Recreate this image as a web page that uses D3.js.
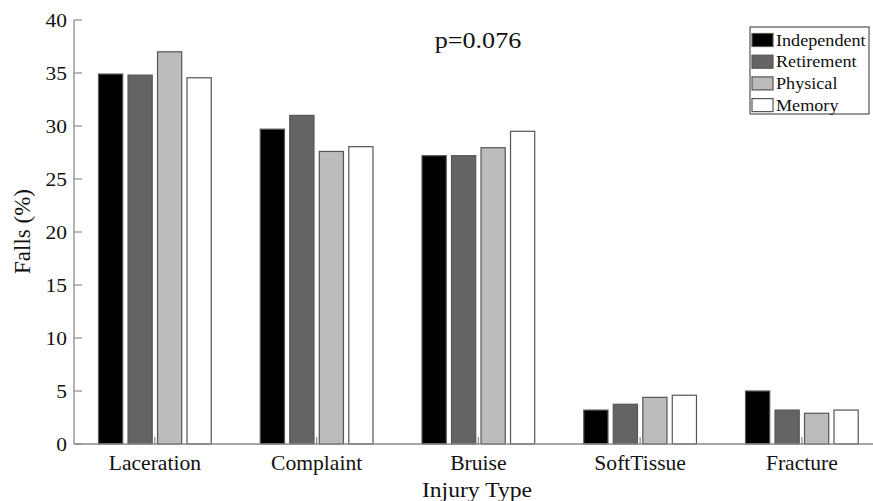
<!DOCTYPE html>
<html>
<head>
<meta charset="utf-8">
<script src="https://cdn.jsdelivr.net/npm/d3@7/dist/d3.min.js"></script>
<style>
  html, body { margin: 0; padding: 0; background: #fff; }
</style>
</head>
<body>
<svg id="chart" width="873" height="501"></svg>
<script>
// ---- data ----
const categories = ["Laceration", "Complaint", "Bruise", "SoftTissue", "Fracture"];
const seriesNames = ["Independent", "Retirement", "Physical", "Memory"];
const independent = [34.9, 29.7, 27.2, 3.2, 5.0];
const retirement  = [34.8, 31.0, 27.2, 3.75, 3.2];
const physical    = [37.0, 27.6, 27.95, 4.4, 2.9];
const memory      = [34.55, 28.05, 29.5, 4.6, 3.2];
const yTicks = [0, 5, 10, 15, 20, 25, 30, 35, 40];
const seriesValues = [independent, retirement, physical, memory];
const colors = ["#000000", "#646464", "#bcbcbc", "#ffffff"];

const FONT = "'Liberation Serif', Tinos, 'Times New Roman', Times, 'DejaVu Serif', serif";

const svg = d3.select("#chart");

const x = d3.scaleBand().domain(categories).range([74, 74 + 5 * 161.75]).paddingInner(0).paddingOuter(0);
const y = d3.scaleLinear().domain([0, 40]).range([444, 20]);
const xs = d3.scaleBand().domain(seriesNames).range([-59, 59]).paddingInner(0.18).paddingOuter(0.09);

function stext(g, str, tx, ty, size, sx, anchor) {
  return g.append("text")
    .attr("transform", `translate(${tx},${ty}) scale(${sx},1)`)
    .attr("text-anchor", anchor || "middle")
    .attr("font-family", FONT)
    .attr("font-size", size)
    .attr("fill", "#111")
    .text(str);
}

// bars
const groups = svg.append("g").selectAll("g").data(categories).join("g")
  .attr("transform", d => `translate(${x(d) + x.bandwidth() / 2},0)`);
groups.selectAll("rect")
  .data((c, ci) => seriesNames.map((s, si) => ({ s, si, v: seriesValues[si][ci] })))
  .join("rect")
  .attr("x", d => xs(d.s))
  .attr("width", xs.bandwidth())
  .attr("y", d => y(d.v))
  .attr("height", d => y(0) - y(d.v))
  .attr("fill", d => colors[d.si])
  .attr("stroke", "#555")
  .attr("stroke-width", 1.2);

// axes
const axisColor = "#8a8a8a";
const ax = svg.append("g");
ax.append("line").attr("x1", 74).attr("x2", 873).attr("y1", y(0)).attr("y2", y(0))
  .attr("stroke", axisColor).attr("stroke-width", 1.3);
ax.append("line").attr("x1", 74).attr("x2", 74).attr("y1", y(0)).attr("y2", y(40))
  .attr("stroke", axisColor).attr("stroke-width", 1.3);

// y ticks (inward)
yTicks.forEach(t => {
  ax.append("line").attr("x1", 74).attr("x2", 82).attr("y1", y(t)).attr("y2", y(t))
    .attr("stroke", axisColor).attr("stroke-width", 1.2);
  stext(ax, String(t), 67, y(t) + 6.5, 19.5, 1.1, "end");
});

// x ticks (inward) + labels
categories.forEach(c => {
  const cx = x(c) + x.bandwidth() / 2;
  ax.append("line").attr("x1", cx).attr("x2", cx).attr("y1", y(0)).attr("y2", y(0) - 7)
    .attr("stroke", axisColor).attr("stroke-width", 1.2);
  stext(ax, c, cx, 470, 20, 1.08, "middle");
});

// axis titles
stext(svg, "Injury Type", 477, 497, 21.5, 1.1, "middle");
svg.append("text")
  .attr("transform", "translate(30,231.5) rotate(-90)")
  .attr("text-anchor", "middle")
  .attr("font-family", FONT)
  .attr("font-size", 23)
  .attr("fill", "#111")
  .text("Falls (%)");

// annotation
stext(svg, "p=0.076", 478, 48, 24, 1.09, "middle");

// legend
const lg = svg.append("g");
lg.append("rect").attr("x", 750).attr("y", 27).attr("width", 119).attr("height", 87)
  .attr("fill", "#fff").attr("stroke", "#333").attr("stroke-width", 1);
seriesNames.forEach((s, i) => {
  const cy = 40 + i * 21.7;
  lg.append("rect").attr("x", 752).attr("y", cy - 6.5).attr("width", 21).attr("height", 13)
    .attr("fill", colors[i]).attr("stroke", "#555").attr("stroke-width", 1.2);
  stext(lg, s, 776, cy + 5.5, 16.5, 1.1, "start");
});
</script>
</body>
</html>
